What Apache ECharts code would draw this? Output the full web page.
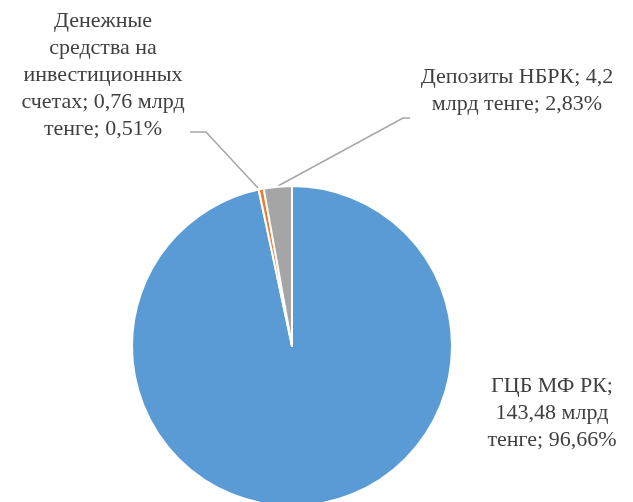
<!DOCTYPE html>
<html>
<head>
<meta charset="utf-8">
<script src="https://cdn.jsdelivr.net/npm/echarts@6/dist/echarts.min.js"></script>
<style>
  html, body { margin: 0; padding: 0; background: #fff; }
  #chart { width: 633px; height: 502px; }
</style>
</head>
<body>
<div id="chart"></div>
<script>
// data
const names = ['ГЦБ МФ РК', 'Денежные средства на инвестиционных счетах', 'Депозиты НБРК'];
const values = [143.48, 0.76, 4.2];
const colors = ['#5B9BD5', '#ED7D31', '#A5A5A5'];
// how many words go on each label line
const wordsPerLine = [[3, 2, 2], [1, 2, 1, 3, 2], [3, 3]];

// label placement (centre of text block) and leader lines
const labelPos = [[552, 413], [103, 75], [517, 91]];
const leaderLines = [null, [[258, 188], [206, 132], [190, 132]], [[278, 186], [403, 118], [410, 118]]];

function fmt(n) {
    return String(n).replace('.', ',');
}

const chart = echarts.init(document.getElementById('chart'));

chart.setOption({
    animation: false,
    series: [{
        type: 'pie',
        center: [292, 346],
        radius: 160,
        startAngle: 90,
        clockwise: true,
        itemStyle: { borderColor: '#fff', borderWidth: 2 },
        label: {
            show: true,
            color: '#404040',
            fontFamily: 'Liberation Serif',
            fontSize: 22,
            lineHeight: 27,
            align: 'center',
            overflow: 'none',
            formatter: function (p) {
                let words = (p.name + '; ' + fmt(p.value) + ' млрд тенге; ' + fmt(p.percent) + '%').split(' ');
                let lines = [];
                let k = 0;
                for (let c of wordsPerLine[p.dataIndex]) {
                    lines.push(words.slice(k, k + c).join(' '));
                    k += c;
                }
                return lines.join('\n');
            }
        },
        labelLine: {
            show: true,
            lineStyle: { color: '#A6A6A6', width: 1.5 }
        },
        labelLayout: function (params) {
            let i = params.dataIndex;
            let res = {
                x: labelPos[i][0],
                y: labelPos[i][1],
                align: 'center',
                verticalAlign: 'middle'
            };
            if (leaderLines[i]) res.labelLinePoints = leaderLines[i];
            return res;
        },
        data: names.map(function (n, i) {
            return {
                name: n,
                value: values[i],
                itemStyle: { color: colors[i] },
                labelLine: { show: leaderLines[i] != null }
            };
        })
    }]
});
</script>
</body>
</html>
